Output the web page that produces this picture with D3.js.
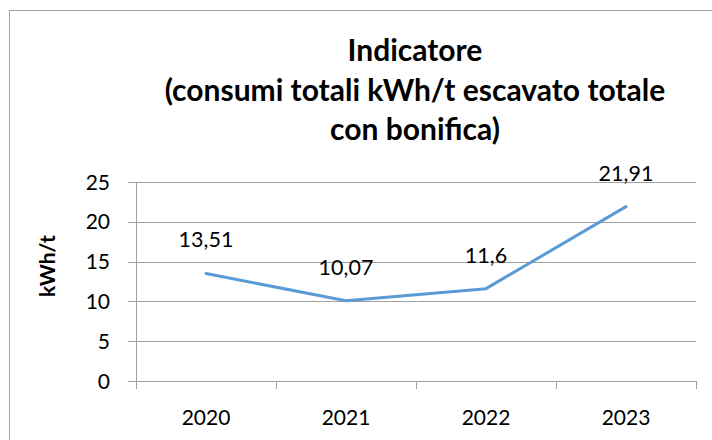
<!DOCTYPE html>
<html><head><meta charset="utf-8">
<script src="https://cdn.jsdelivr.net/npm/d3@7"></script>
<style>body{margin:0;background:#fff}svg{display:block}</style>
</head><body>
<script>
const years = ["2020","2021","2022","2023"];
const values = [13.51, 10.07, 11.6, 21.91];
const valueLabels = ["13,51","10,07","11,6","21,91"];
const yTicks = [0,5,10,15,20,25];
const titleLines = ["Indicatore","(consumi totali kWh/t escavato totale","con bonifica)"];
const yTitle = "kWh/t";

const W = 712, H = 440;
const font = "Lato, Carlito, 'Open Sans', sans-serif";
const svg = d3.select("body").append("svg").attr("width", W).attr("height", H);
svg.append("rect").attr("x",9.5).attr("y",10.5).attr("width",720).attr("height",450)
  .attr("fill","#fff").attr("stroke","#a6a6a6").attr("stroke-width",1);

const m = {left:136, right:696, top:182, bottom:381};
const x = d3.scaleBand().domain(years).range([m.left, m.right]);
const y = d3.scaleLinear().domain([0,25]).range([m.bottom, m.top]);

const gridColor = "#a0a0a0";
svg.append("g").selectAll("line").data(yTicks).join("line")
  .attr("x1", m.left - 8).attr("x2", m.right)
  .attr("y1", d => Math.round(y(d))+0.5).attr("y2", d => Math.round(y(d))+0.5)
  .attr("stroke", gridColor).attr("stroke-width",1);
svg.append("line").attr("x1", m.left+0.5).attr("x2", m.left+0.5)
  .attr("y1", m.top).attr("y2", m.bottom + 8).attr("stroke", gridColor);
const xb = years.map(d => x(d)).concat([m.right]);
svg.append("g").selectAll("line").data(xb).join("line")
  .attr("x1", d => Math.round(d)+0.5).attr("x2", d => Math.round(d)+0.5)
  .attr("y1", Math.round(y(0))).attr("y2", Math.round(y(0)) + 8)
  .attr("stroke", gridColor);

svg.append("g").selectAll("text").data(yTicks).join("text")
  .attr("x", 110).attr("y", d => y(d)).attr("dy","0.36em")
  .attr("text-anchor","end").attr("font-family",font).attr("font-size",21)
  .attr("fill","#000").text(d => d);
svg.append("g").selectAll("text").data(years).join("text")
  .attr("x", d => x(d) + x.bandwidth()/2).attr("y", 425)
  .attr("text-anchor","middle").attr("font-family",font).attr("font-size",21)
  .attr("fill","#000").text(d => d);

const data = years.map((d,i) => ({year:d, v:values[i], lab:valueLabels[i]}));
svg.append("path").datum(data)
  .attr("d", d3.line().x(d => x(d.year)+x.bandwidth()/2).y(d => y(d.v)))
  .attr("fill","none").attr("stroke","#5b9bd5").attr("stroke-width",3)
  .attr("stroke-linejoin","round").attr("stroke-linecap","round");
svg.append("g").selectAll("text").data(data).join("text")
  .attr("x", d => x(d.year)+x.bandwidth()/2).attr("y", d => y(d.v) - 26)
  .attr("text-anchor","middle").attr("font-family",font).attr("font-size",21.5)
  .attr("fill","#000").text(d => d.lab);

svg.append("g").selectAll("text").data(titleLines).join("text")
  .attr("x", 415).attr("y", (d,i) => 61 + i*39.5)
  .attr("text-anchor","middle").attr("font-family",font).attr("font-size",30)
  .attr("font-weight","bold").attr("fill","#000").text(d => d);

svg.append("text").attr("transform","translate(55,266) rotate(-90)")
  .attr("text-anchor","middle").attr("font-family",font).attr("font-size",21)
  .attr("font-weight","bold").attr("fill","#000").text(yTitle);
</script>
</body></html>
